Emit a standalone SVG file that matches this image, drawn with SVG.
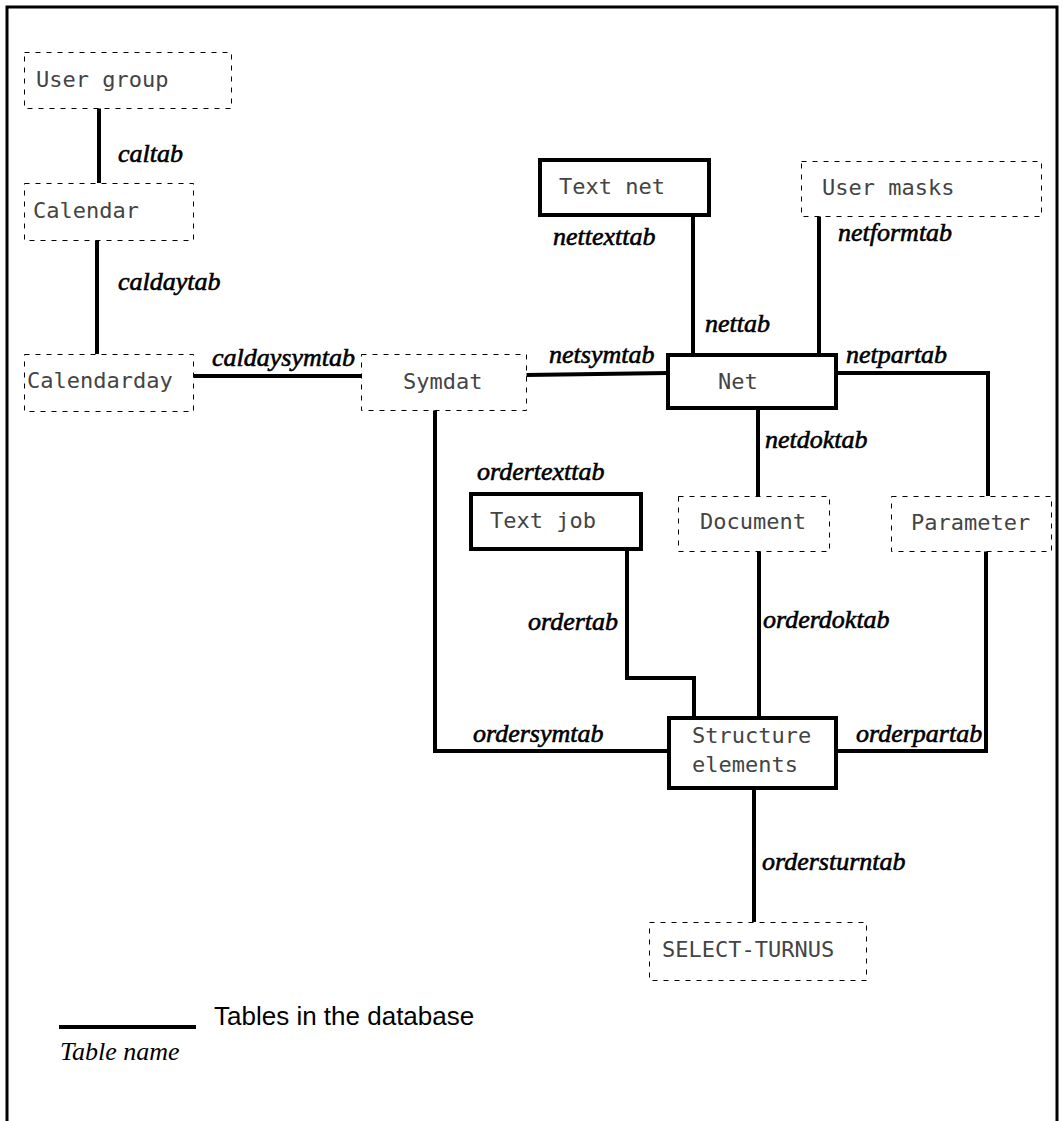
<svg xmlns="http://www.w3.org/2000/svg" width="1063" height="1121" viewBox="0 0 1063 1121">
  <style>
    .frame { fill: none; stroke: #000; stroke-width: 3; }
    .box-solid { fill: #fff; stroke: #000; stroke-width: 4; }
    .box-dash { fill: #fff; stroke: #000; stroke-width: 1; stroke-dasharray: 5 6; }
    .node-text { font-family: "DejaVu Sans Mono", "Liberation Mono", monospace; font-size: 22px; fill: #444; }
    .link { fill: none; stroke: #000; stroke-width: 4; }
    .label { font-family: "Liberation Serif", "Times New Roman", serif; font-style: italic; font-size: 26px; fill: #000; stroke: #000; stroke-width: 0.6; }
    .legend-label { font-family: "Liberation Serif", "Times New Roman", serif; font-style: italic; font-size: 26px; fill: #000; }
    .legend-text { font-family: "Liberation Sans", Arial, sans-serif; font-size: 26px; fill: #000; }
  </style>
  <rect width="1063" height="1121" fill="#fff"/>

  <!-- outer frame -->
  <path class="frame" d="M7,1121 V7 H1057 V1121"/>

  <!-- connectors -->
  <g id="connectors">
    <path class="link" d="M99,108 V183"/>
    <path class="link" d="M97,240 V354"/>
    <path class="link" d="M193,376 H361"/>
    <path class="link" d="M526,375 L668,373"/>
    <path class="link" d="M693,215 V355"/>
    <path class="link" d="M819,216 V355"/>
    <path class="link" d="M836,373 H988 V496"/>
    <path class="link" d="M758,408 V496"/>
    <path class="link" d="M627,549 V678 H694 V718"/>
    <path class="link" d="M759,551 V718"/>
    <path class="link" d="M435,410 V751 H669"/>
    <path class="link" d="M986,551 V751 H836"/>
    <path class="link" d="M754,788 V922"/>

    <text class="label" x="118" y="162">caltab</text>
    <text class="label" x="118" y="290">caldaytab</text>
    <text class="label" x="212" y="366">caldaysymtab</text>
    <text class="label" x="553" y="245">nettexttab</text>
    <text class="label" x="838" y="241">netformtab</text>
    <text class="label" x="705" y="332">nettab</text>
    <text class="label" x="549" y="363">netsymtab</text>
    <text class="label" x="846" y="363">netpartab</text>
    <text class="label" x="765" y="448">netdoktab</text>
    <text class="label" x="477" y="480">ordertexttab</text>
    <text class="label" x="528" y="630">ordertab</text>
    <text class="label" x="763" y="628">orderdoktab</text>
    <text class="label" x="473" y="742">ordersymtab</text>
    <text class="label" x="856" y="742">orderpartab</text>
    <text class="label" x="762" y="870">ordersturntab</text>
  </g>

  <!-- nodes -->
  <g id="user-group">
    <rect class="box-dash" x="24.5" y="52.5" width="207" height="56"/>
    <text class="node-text" x="36" y="87">User group</text>
  </g>
  <g id="calendar">
    <rect class="box-dash" x="24.5" y="183.5" width="169" height="57"/>
    <text class="node-text" x="33" y="218">Calendar</text>
  </g>
  <g id="calendarday">
    <rect class="box-dash" x="24.5" y="354.5" width="169" height="57"/>
    <text class="node-text" x="27" y="388">Calendarday</text>
  </g>
  <g id="symdat">
    <rect class="box-dash" x="361.5" y="354.5" width="165" height="56"/>
    <text class="node-text" x="403" y="389">Symdat</text>
  </g>
  <g id="text-net">
    <rect class="box-solid" x="540" y="160" width="169" height="55"/>
    <text class="node-text" x="559" y="194">Text net</text>
  </g>
  <g id="user-masks">
    <rect class="box-dash" x="801.5" y="161.5" width="240" height="55"/>
    <text class="node-text" x="822" y="195">User masks</text>
  </g>
  <g id="net">
    <rect class="box-solid" x="668" y="355" width="168" height="53"/>
    <text class="node-text" x="718" y="389">Net</text>
  </g>
  <g id="text-job">
    <rect class="box-solid" x="471" y="494" width="170" height="55"/>
    <text class="node-text" x="490" y="528">Text job</text>
  </g>
  <g id="document">
    <rect class="box-dash" x="678.5" y="496.5" width="151" height="55"/>
    <text class="node-text" x="700" y="529">Document</text>
  </g>
  <g id="parameter">
    <rect class="box-dash" x="891.5" y="496.5" width="160" height="55"/>
    <text class="node-text" x="911" y="530">Parameter</text>
  </g>
  <g id="structure-elements">
    <rect class="box-solid" x="669" y="718" width="167" height="70"/>
    <text class="node-text" x="692" y="743">Structure</text>
    <text class="node-text" x="692" y="772">elements</text>
  </g>
  <g id="select-turnus">
    <rect class="box-dash" x="649.5" y="922.5" width="217" height="58"/>
    <text class="node-text" x="662" y="957">SELECT-TURNUS</text>
  </g>

  <!-- legend -->
  <g id="legend">
    <path class="link" d="M59,1027 H196"/>
    <text class="legend-text" x="214" y="1025">Tables in the database</text>
    <text class="legend-label" x="60" y="1060">Table name</text>
  </g>
</svg>
